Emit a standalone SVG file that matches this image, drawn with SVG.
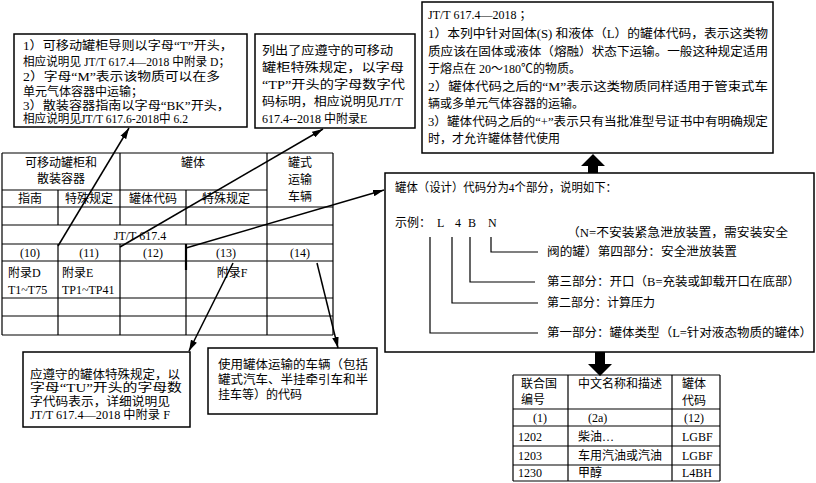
<svg xmlns="http://www.w3.org/2000/svg" width="816" height="483" viewBox="0 0 816 483">
<style>
text{font-family:"Liberation Serif","Noto Sans CJK SC",serif;font-size:12px;fill:#000}
.c{text-anchor:middle}
.box{fill:#fff;stroke:#000;stroke-width:1.5}
.grid{stroke:#000;stroke-width:1.2;fill:none}
.conn{stroke:#000;stroke-width:1.5;fill:none}
</style>
<defs>
<marker id="ah" viewBox="0 0 10 6" refX="10" refY="3" markerWidth="11" markerHeight="7" markerUnits="userSpaceOnUse" orient="auto">
<path d="M0,0 L10,3 L0,6 Z" fill="#000"/>
</marker>
</defs>
<rect width="816" height="483" fill="#fff"/>

<g id="box1">
<rect class="box" x="14" y="34" width="233" height="93"/>
<text x="23" y="50" textLength="210" lengthAdjust="spacingAndGlyphs">1）可移动罐柜导则以字母“T”开头，</text>
<text x="23" y="66" textLength="207" lengthAdjust="spacingAndGlyphs">相应说明见 JT/T 617.4—2018 中附录 D；</text>
<text x="23" y="81" textLength="197" lengthAdjust="spacingAndGlyphs">2）字母“M”表示该物质可以在多</text>
<text x="23" y="96">单元气体容器中运输；</text>
<text x="23" y="110" textLength="207" lengthAdjust="spacingAndGlyphs">3）散装容器指南以字母“BK”开头，</text>
<text x="23" y="123" textLength="165" lengthAdjust="spacingAndGlyphs">相应说明见JT/T 617.6-2018中 6.2</text>
</g>

<g id="box2">
<rect class="box" x="255" y="34" width="160" height="94"/>
<text x="262" y="55" textLength="131" lengthAdjust="spacingAndGlyphs">列出了应遵守的可移动</text>
<text x="262" y="72" textLength="142" lengthAdjust="spacingAndGlyphs">罐柜特殊规定，以字母</text>
<text x="262" y="89" textLength="143" lengthAdjust="spacingAndGlyphs">“TP”开头的字母数字代</text>
<text x="262" y="106" textLength="141" lengthAdjust="spacingAndGlyphs">码标明，相应说明见JT/T</text>
<text x="262" y="123">617.4--2018 中附录E</text>
</g>

<g id="box3">
<rect class="box" x="422" y="2" width="351" height="151"/>
<text x="428" y="19">JT/T 617.4—2018 ；</text>
<text x="428" y="38" textLength="340" lengthAdjust="spacingAndGlyphs">1）本列中针对固体(S) 和液体（L）的罐体代码，表示这类物</text>
<text x="428" y="56" textLength="340" lengthAdjust="spacingAndGlyphs">质应该在固体或液体（熔融）状态下运输。一般这种规定适用</text>
<text x="428" y="73">于熔点在 20～180℃的物质。</text>
<text x="428" y="91" textLength="340" lengthAdjust="spacingAndGlyphs">2）罐体代码之后的“M”表示这类物质同样适用于管束式车</text>
<text x="428" y="108">辆或多单元气体容器的运输。</text>
<text x="428" y="126" textLength="340" lengthAdjust="spacingAndGlyphs">3）罐体代码之后的“+”表示只有当批准型号证书中有明确规定</text>
<text x="428" y="143">时，才允许罐体替代使用</text>
</g>

<g id="box4">
<rect class="box" x="385" y="173" width="429" height="179"/>
<text x="395" y="192" textLength="222" lengthAdjust="spacingAndGlyphs">罐体（设计）代码分为4个部分，说明如下：</text>
<text x="395" y="227">示例：</text>
<text x="437" y="227">L</text>
<text x="455" y="227">4</text>
<text x="468" y="227">B</text>
<text x="488" y="227">N</text>
<path class="grid" d="M430,237 V333 H538 M452,237 V303 H538 M470,237 V282 H535 M491,237 V252 H538"/>
<text x="567" y="237" textLength="221" lengthAdjust="spacingAndGlyphs">（N=不安装紧急泄放装置，需安装安全</text>
<text x="547" y="256" textLength="190" lengthAdjust="spacingAndGlyphs">阀的罐）第四部分：安全泄放装置</text>
<text x="547" y="286" textLength="253" lengthAdjust="spacingAndGlyphs">第三部分：开口（B=充装或卸载开口在底部）</text>
<text x="547" y="307">第二部分：计算压力</text>
<text x="547" y="337" textLength="265" lengthAdjust="spacingAndGlyphs">第一部分：罐体类型（L=针对液态物质的罐体）</text>
</g>

<g id="box5">
<rect class="box" x="23" y="352" width="167" height="75"/>
<text x="30" y="379" textLength="150" lengthAdjust="spacingAndGlyphs">应遵守的罐体特殊规定，以</text>
<text x="30" y="392" textLength="152" lengthAdjust="spacingAndGlyphs">字母“TU”开头的字母数</text>
<text x="30" y="406" textLength="140" lengthAdjust="spacingAndGlyphs">字代码表示，详细说明见</text>
<text x="30" y="419" textLength="140" lengthAdjust="spacingAndGlyphs">JT/T 617.4—2018 中附录 F</text>
</g>

<g id="box6">
<rect class="box" x="208" y="348" width="169" height="66"/>
<text x="218" y="369" textLength="150" lengthAdjust="spacingAndGlyphs">使用罐体运输的车辆（包括</text>
<text x="218" y="384" textLength="150" lengthAdjust="spacingAndGlyphs">罐式汽车、半挂牵引车和半</text>
<text x="218" y="399">挂车等）的代码</text>
</g>

<g id="mainTable">
<path class="grid" d="M2,153 H333 M2,190 H267 M2,207 H333 M2,225 H333 M2,244 H333 M2,261 H333 M2,298 H333 M2,316 H333 M2,335 H333
M2,153 V335 M58,190 V225 M58,244 V335 M120,153 V225 M120,244 V335 M186,190 V225 M186,244 V335 M267,153 V335 M333,153 V335"/>
<path d="M186,244 V270" stroke="#000" stroke-width="2.2"/>
<text class="c" x="61" y="167">可移动罐柜和</text>
<text class="c" x="61" y="183">散装容器</text>
<text class="c" x="193" y="167">罐体</text>
<text class="c" x="300" y="167">罐式</text>
<text class="c" x="300" y="184">运输</text>
<text class="c" x="300" y="201">车辆</text>
<text class="c" x="30" y="203">指南</text>
<text class="c" x="89" y="203">特殊规定</text>
<text class="c" x="153" y="203">罐体代码</text>
<text class="c" x="226" y="203">特殊规定</text>
<text class="c" x="140" y="240">JT/T 617.4</text>
<text class="c" x="30" y="257">(10)</text>
<text class="c" x="89" y="257">(11)</text>
<text class="c" x="153" y="257">(12)</text>
<text class="c" x="226" y="257">(13)</text>
<text class="c" x="300" y="257">(14)</text>
<text x="8" y="277">附录D</text>
<text x="8" y="294">T1~T75</text>
<text x="62" y="277">附录E</text>
<text x="62" y="294">TP1~TP41</text>
<text class="c" x="232" y="277">附录F</text>
</g>

<g id="unTable">
<path class="grid" d="M513,375 H720 M513,409 H720 M513,426 H720 M513,446 H720 M513,465 H720 M513,481 H720
M513,375 V481 M568,375 V481 M672,375 V481 M720,375 V481"/>
<text x="521" y="388">联合国</text>
<text x="521" y="404">编号</text>
<text x="578" y="388">中文名称和描述</text>
<text x="682" y="388">罐体</text>
<text x="682" y="405">代码</text>
<text class="c" x="540" y="422">(1)</text>
<text x="588" y="422">(2a)</text>
<text x="684" y="422">(12)</text>
<text x="518" y="441">1202</text>
<text x="578" y="441">柴油…</text>
<text x="682" y="441">LGBF</text>
<text x="518" y="460">1203</text>
<text x="578" y="460">车用汽油或汽油</text>
<text x="682" y="460">LGBF</text>
<text x="518" y="477">1230</text>
<text x="578" y="477">甲醇</text>
<text x="682" y="477">L4BH</text>
</g>

<g id="connectors">
<line class="conn" x1="58" y1="246" x2="129" y2="128" marker-end="url(#ah)"/>
<line class="conn" x1="120" y1="247" x2="323" y2="129" marker-end="url(#ah)"/>
<path class="conn" d="M186,248 L384,190" marker-end="url(#ah)"/>
<line class="conn" x1="233" y1="263" x2="189" y2="351" marker-end="url(#ah)"/>
<line class="conn" x1="317" y1="263" x2="338" y2="348" marker-end="url(#ah)"/>
<polygon points="593,154 605,166 598,166 598,173 588,173 588,166 581,166" fill="#000"/>
<polygon points="595,352 605,352 605,364 612,364 600,376 588,364 595,364" fill="#000"/>
</g>
</svg>
